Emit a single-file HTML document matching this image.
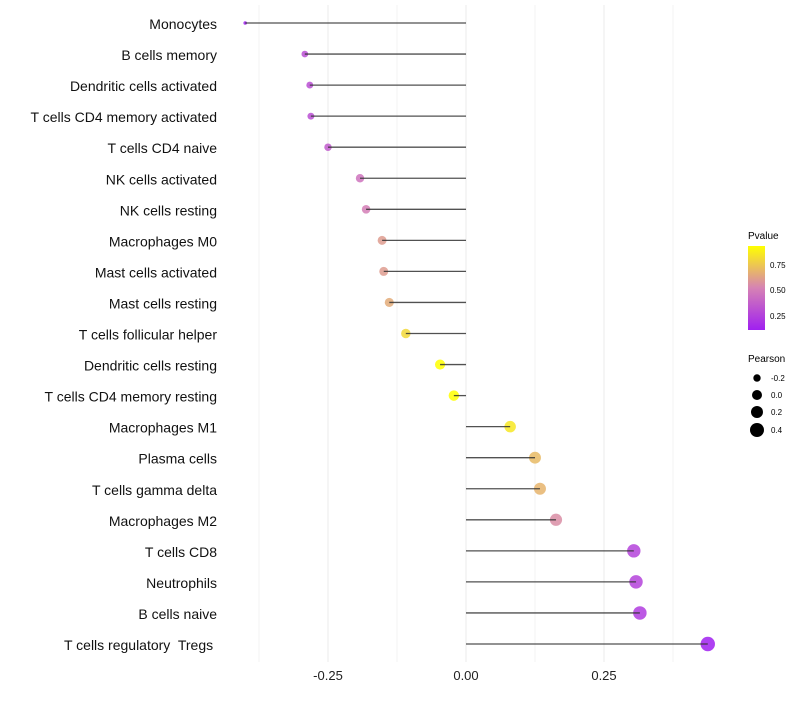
<!DOCTYPE html>
<html><head><meta charset="utf-8"><style>
body{margin:0;background:#fff;}
svg text{font-family:"Liberation Sans",sans-serif;white-space:pre;}
</style></head><body>
<svg id="chart" width="800" height="700" xmlns="http://www.w3.org/2000/svg">
<defs><linearGradient id="pg" x1="0" y1="1" x2="0" y2="0">
<stop offset="0" stop-color="#a020f0"/><stop offset="0.5" stop-color="#d682b4"/><stop offset="1" stop-color="#ffff00"/></linearGradient></defs>
<g id="grid"></g><g id="points"></g><g id="marks"></g><g id="labels"></g>
<g>
<text x="748" y="239" font-size="10">Pvalue</text>
<rect x="748" y="246" width="17" height="84" fill="url(#pg)"/>
<text x="770" y="268" font-size="8">0.75</text>
<text x="770" y="293" font-size="8">0.50</text>
<text x="770" y="319" font-size="8">0.25</text>
</g>
<g>
<text x="748" y="362" font-size="10">Pearson</text>
<circle cx="757" cy="378" r="3.7" fill="#000"/><text x="771" y="381" font-size="8">-0.2</text>
<circle cx="757" cy="395" r="5" fill="#000"/><text x="771" y="398" font-size="8">0.0</text>
<circle cx="757" cy="412" r="6" fill="#000"/><text x="771" y="415" font-size="8">0.2</text>
<circle cx="757" cy="430" r="7" fill="#000"/><text x="771" y="433" font-size="8">0.4</text>
</g>
</svg>
<script>
const categories=["Monocytes","B cells memory","Dendritic cells activated","T cells CD4 memory activated","T cells CD4 naive","NK cells activated","NK cells resting","Macrophages M0","Mast cells activated","Mast cells resting","T cells follicular helper","Dendritic cells resting","T cells CD4 memory resting","Macrophages M1","Plasma cells","T cells gamma delta","Macrophages M2","T cells CD8","Neutrophils","B cells naive","T cells regulatory  Tregs "];
const pearson=[-0.400,-0.292,-0.283,-0.281,-0.250,-0.192,-0.181,-0.152,-0.149,-0.139,-0.109,-0.047,-0.022,0.080,0.125,0.134,0.163,0.304,0.308,0.315,0.438];
const pvalues=[0.08,0.3,0.3,0.3,0.35,0.45,0.5,0.6,0.6,0.65,0.8,0.95,0.95,0.85,0.7,0.68,0.55,0.25,0.25,0.22,0.1];
const tickVals=[-0.25,0,0.25];
const tickLabels=["-0.25","0.00","0.25"];
const NS="http://www.w3.org/2000/svg";
const xs=v=>466+v*552;
const ys=i=>23+i*31.05;
const pmin=Math.min(...pearson),pmax=Math.max(...pearson);
const rs=v=>Math.max(1.8,1.2*(1+5*Math.sqrt((v-pmin)/(pmax-pmin))));
function lerp(a,b,t){return a.map((x,k)=>Math.round(x+(b[k]-x)*t));}
function col(p){const t=Math.max(0,Math.min(1,(p-0.1)/0.83));
const c0=[160,32,240],c1=[214,130,180],c2=[255,255,0];
const c=t<0.5?lerp(c0,c1,t/0.5):lerp(c1,c2,(t-0.5)/0.5);return `rgb(${c})`;}
function mk(tag,attrs,parent){const e=document.createElementNS(NS,tag);for(const k in attrs)e.setAttribute(k,attrs[k]);parent.appendChild(e);return e;}
const grid=document.getElementById('grid'),marks=document.getElementById('marks'),pts=document.getElementById('points'),labels=document.getElementById('labels');
for(let v=-0.375;v<=0.38;v+=0.125){const g=mk('line',{x1:xs(v),x2:xs(v),y1:5,y2:662,stroke:'#ebebeb','stroke-width':Math.abs(v*8%2)<0.01?1:0.6},grid);

}
tickVals.forEach((v,i)=>{const t=mk('text',{x:xs(v),y:680,'font-size':13,'text-anchor':'middle',fill:'#222'},labels);t.textContent=tickLabels[i];

});
categories.forEach((c,i)=>{const y=ys(i);
const t=mk('text',{x:217,y:y+6,'font-size':14,'text-anchor':'end',fill:'#111'},labels);t.textContent=c;


const l=mk('line',{x1:xs(0),x2:xs(pearson[i]),y1:y,y2:y,stroke:'#333','stroke-width':1.3,'stroke-opacity':0.85},marks);


const d=mk('circle',{cx:xs(pearson[i]),cy:y,r:rs(pearson[i]),fill:col(pvalues[i]),'fill-opacity':0.85},pts);

});
</script>
</body></html>
